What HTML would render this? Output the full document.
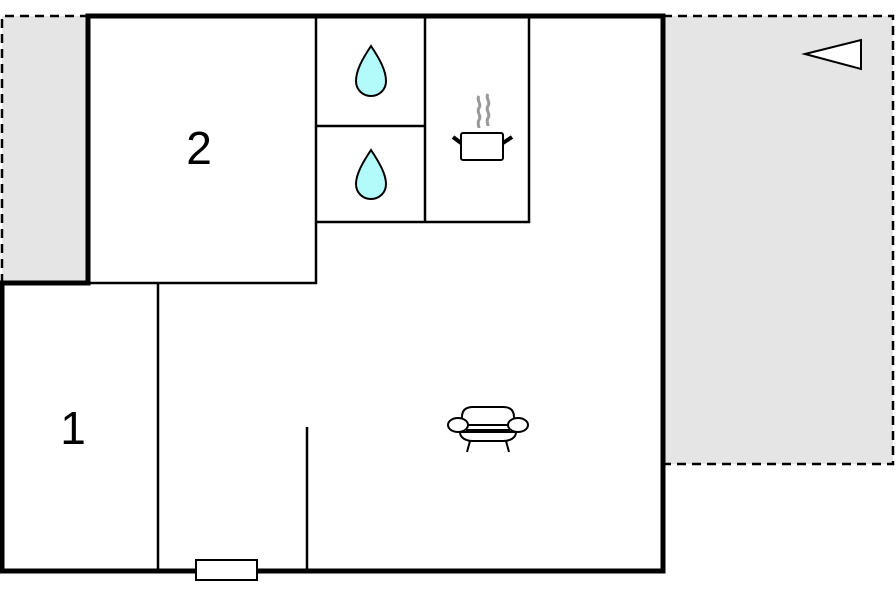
<!DOCTYPE html>
<html><head><style>html,body{margin:0;padding:0;background:#fff}</style></head><body>
<svg width="896" height="597" xmlns="http://www.w3.org/2000/svg" style="display:block">
<rect x="2" y="16" width="86" height="267" fill="#e5e5e5"/>
<rect x="663" y="16" width="230" height="448" fill="#e5e5e5"/>
<g stroke="#000" stroke-width="2.5" stroke-dasharray="9,6" fill="none">
<path d="M2 283 V16 H88"/>
<path d="M663 16 H893 V464 H663"/>
</g>
<g stroke="#000" stroke-width="2.5" fill="none">
<path d="M88 283 H316 V16"/>
<path d="M316 126 H425"/>
<path d="M425 16 V222"/>
<path d="M316 222 H529 V16"/>
<path d="M158 283 V571"/>
<path d="M307 427 V571"/>
</g>
<path d="M88 16 H663 V571 H2 V283 H88 Z" stroke="#000" stroke-width="5" fill="none"/>
<rect x="196" y="560" width="61" height="20" fill="#fff" stroke="#000" stroke-width="2"/>
<polygon points="805,54 861,40 861,69" fill="#fff" stroke="#000" stroke-width="2"/>
<g fill="#b3fafa" stroke="#000" stroke-width="2">
<path d="M371 46 C363 58 356 70 356 81 C356 90 363 96 371 96 C379 96 386 90 386 81 C386 70 379 58 371 46 Z"/>
<path d="M371 150 C363 162 356 174 356 184 C356 193 363 199 371 199 C379 199 386 193 386 184 C386 174 379 162 371 150 Z"/>
</g>
<g fill="none" stroke="#999" stroke-width="3">
<path d="M479 96 c-3 4 3 8 0 12 c-3 4 3 8 0 12 c-2 3 0 6 0 8"/>
<path d="M488 94 c-3 4 3 8 0 12 c-3 4 3 8 0 12 c-2 3 0 6 0 8"/>
</g>
<rect x="461" y="133" width="42" height="27" rx="2" fill="#fff" stroke="#000" stroke-width="2"/>
<path d="M461 143 L453 137 M503 143 L512 137" stroke="#000" stroke-width="4"/>
<g fill="#fff" stroke="#000" stroke-width="2">
<path d="M462 425 V417 C462 410 466 407 473 407 H503 C510 407 514 410 514 417 V425 Z"/>
<path d="M460 432 C460 438 466 441 473 441 H503 C510 441 516 438 516 432 Z"/>
<line x1="466" y1="430" x2="510" y2="430"/>
<ellipse cx="458" cy="425" rx="10" ry="7"/>
<ellipse cx="518" cy="425" rx="10" ry="7"/>
<path d="M470 441 L467 452 M506 441 L509 452"/>
</g>
<text x="199" y="164" font-family="Liberation Sans, sans-serif" font-size="46" text-anchor="middle">2</text>
<text x="73" y="444" font-family="Liberation Sans, sans-serif" font-size="46" text-anchor="middle">1</text>
</svg>
</body></html>
